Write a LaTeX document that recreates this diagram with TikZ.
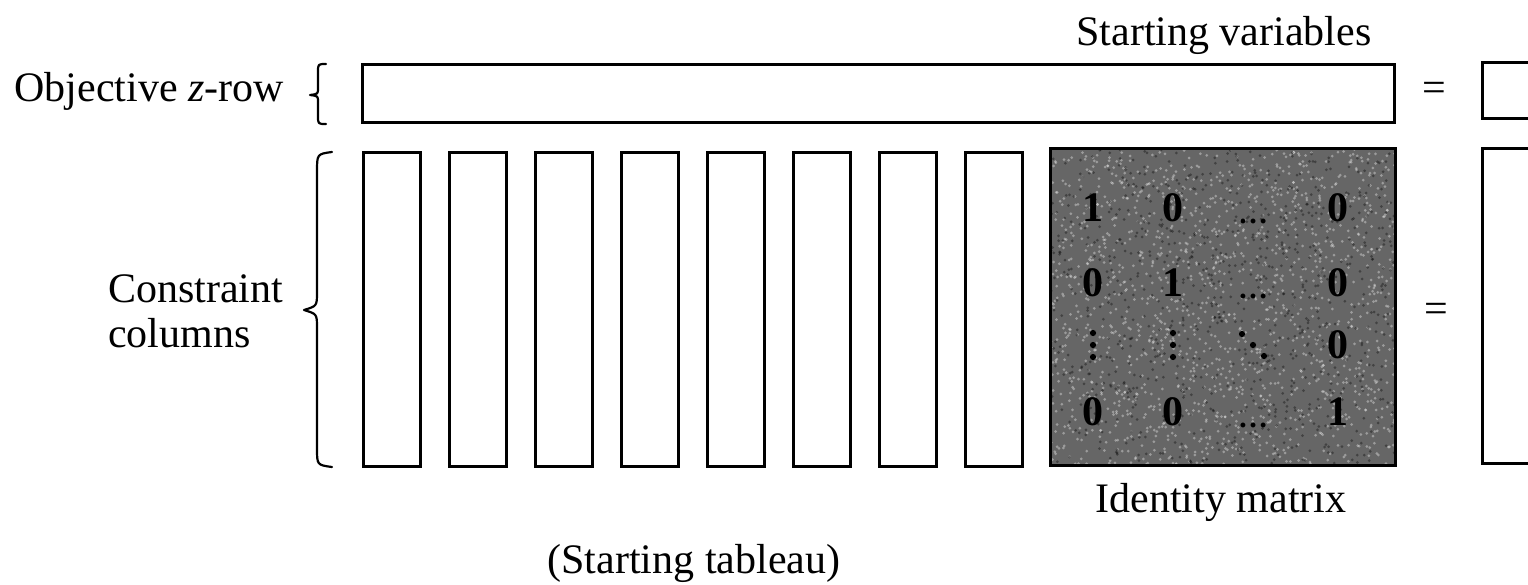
\documentclass[tikz,border=0pt]{standalone}
\usepackage{fontspec}
\setmainfont{Liberation Serif}
\begin{document}
\begin{tikzpicture}[x=1pt,y=-1pt,
  every node/.style={font=\fontsize{42}{46}\selectfont, inner sep=0pt, outer sep=0pt},
  frame/.style={draw, line width=3pt},
  colbox/.style={frame, minimum width=57pt, minimum height=314pt},
  rowbox/.style={frame, minimum width=1032pt, minimum height=58pt},
  rhsbox/.style={frame, minimum width=78pt, minimum height=#1},
  idbox/.style={frame, fill=black!60, minimum width=345pt, minimum height=317pt},
  entry/.style={font=\fontsize{42}{46}\selectfont\bfseries},
  dotsent/.style={font=\fontsize{30}{34}\selectfont\bfseries, anchor=base},
  matdot/.style={fill=black},
  curly/.style={line width=2.2pt, line cap=round, line join=round}
]
\useasboundingbox (0,0) rectangle (1528,584);
\clip (0,0) rectangle (1528,584);

% objective row and its right-hand side
\node[rowbox] (zrow) at (878,93) {};
\node (eqtop) at (1434,92) {=};
\node[rhsbox=56pt] (zrhs) at (1521,90) {};

% constraint columns
\foreach \i in {0,...,7}
  \node[colbox] (col\i) at ({391.5+86.1*\i},309) {};

% identity block of the starting variables, with a halftone grain
\node[idbox] (ident) at (1222.5,306.5) {};
\begin{scope}
  \clip (ident.north west) rectangle (ident.south east);
  \pgfmathsetseed{4127}
  \foreach \k in {1,...,1600}
    \fill[white, opacity=0.35] ({1222.5+172*rand},{306.5+158*rand}) circle (1.5pt);
  \foreach \k in {1,...,900}
    \fill[black, opacity=0.35] ({1222.5+172*rand},{306.5+158*rand}) circle (1.5pt);
\end{scope}
\draw[frame] (ident.north west) rectangle (ident.south east);
\node[entry] (m11) at (1093,208) {1};
\node[entry] (m12) at (1173,208) {0};
\node[dotsent] (m13) at (1253,223) {\dots};
\node[entry] (m14) at (1338,208) {0};
\node[entry] (m21) at (1093,283) {0};
\node[entry] (m22) at (1173,283) {1};
\node[dotsent] (m23) at (1253,298) {\dots};
\node[entry] (m24) at (1338,283) {0};
% third row: vertical and diagonal dots
\coordinate (m31) at (1093,345);
\coordinate (m32) at (1173,345);
\coordinate (m33) at (1253,345);
\foreach \c in {m31,m32}
  \foreach \d in {-12,0,12}
    \fill[matdot] ([yshift=\d pt]\c) circle (3.1pt);
\foreach \d in {-11,0,11}
  \fill[matdot] ([xshift=\d pt, yshift=-\d pt]m33) circle (3.1pt);
\node[entry] (m34) at (1338,345) {0};
\node[entry] (m41) at (1093,412) {0};
\node[entry] (m42) at (1173,412) {0};
\node[dotsent] (m43) at (1253,427) {\dots};
\node[entry] (m44) at (1338,412) {1};

% constraint right-hand side
\node (eqlow) at (1436,313) {=};
\node[rhsbox=315pt] (brhs) at (1521,305.5) {};

% braces
\draw[curly] (326,64) .. controls (318,64) .. (318,72) -- (318,88)
  .. controls (318,94) .. (310,95) .. controls (318,96) .. (318,102)
  -- (318,116) .. controls (318,124) .. (326,124);
\draw[curly] (332,152) .. controls (317,154) .. (317,172) -- (317,292)
  .. controls (317,306) .. (304,310) .. controls (317,314) .. (317,328)
  -- (317,448) .. controls (317,465) .. (332,467);

% labels
\node[anchor=base] (startvars) at (1224,45) {Starting variables};
\node[anchor=base east] (objlabel) at (284,101) {Objective \textit{z}-row};
\node[anchor=base west] (conlabel) at (108,302) {Constraint};
\node[anchor=base west] (collabel) at (108,347) {columns};
\node[anchor=base] (identlabel) at (1221,512) {Identity matrix};
\node[anchor=base] (tableau) at (694,573) {(Starting tableau)};
\end{tikzpicture}
\end{document}
